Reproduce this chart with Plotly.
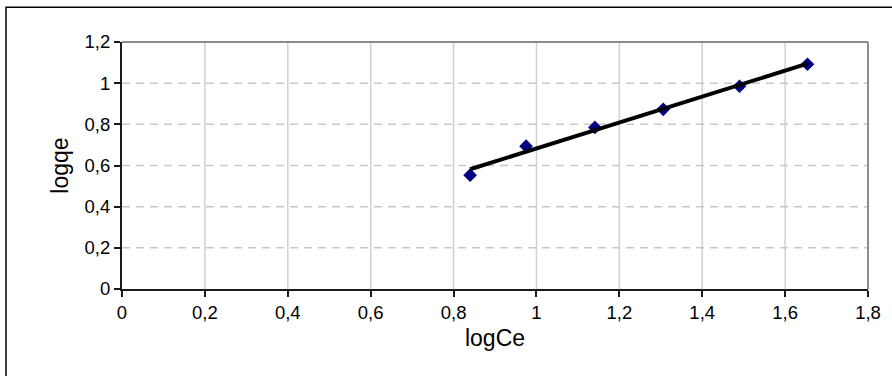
import numpy as np
import plotly.graph_objects as go

log_ce = [0.840, 0.975, 1.141, 1.306, 1.490, 1.654]
log_qe = [0.553, 0.694, 0.785, 0.873, 0.985, 1.092]
x_ticks = [0, 0.2, 0.4, 0.6, 0.8, 1.0, 1.2, 1.4, 1.6, 1.8]
x_tick_text = ["0", "0,2", "0,4", "0,6", "0,8", "1", "1,2", "1,4", "1,6", "1,8"]
y_ticks = [0, 0.2, 0.4, 0.6, 0.8, 1.0, 1.2]
y_tick_text = ["0", "0,2", "0,4", "0,6", "0,8", "1", "1,2"]

slope, intercept = np.polyfit(log_ce, log_qe, 1)
trend_x = [min(log_ce), max(log_ce)]
trend_y = [slope * v + intercept for v in trend_x]

fig = go.Figure()
# vertical solid grid lines
for xv in x_ticks[1:-1]:
    fig.add_shape(type="line", xref="x", yref="y", x0=xv, x1=xv, y0=0, y1=1.2,
                  line=dict(color="#d0d0d0", width=1.5), layer="below")
# horizontal dashed grid lines
for yv in y_ticks[1:-1]:
    fig.add_shape(type="line", xref="x", yref="y", x0=0, x1=1.8, y0=yv, y1=yv,
                  line=dict(color="#c8c8c8", width=1.5, dash="8px,6px"), layer="below")

fig.add_trace(go.Scatter(x=log_ce, y=log_qe, mode="markers",
                         marker=dict(symbol="diamond", color="#000080", size=10.5,
                                     line=dict(width=0)), showlegend=False))
fig.add_trace(go.Scatter(x=trend_x, y=trend_y, mode="lines",
                         line=dict(color="black", width=4), showlegend=False))

# plot area top/right border in gray
fig.add_shape(type="line", xref="paper", yref="paper", x0=0, x1=1, y0=1, y1=1,
              line=dict(color="#8c8c8c", width=2))
fig.add_shape(type="line", xref="paper", yref="paper", x0=1, x1=1, y0=0, y1=1,
              line=dict(color="#8c8c8c", width=2))
# outer chart border (extends beyond right/bottom edge)
fig.add_shape(type="rect", xref="paper", yref="paper", x0=-0.1555, x1=1.2, y0=-0.6, y1=1.1403,
              line=dict(color="black", width=1.5), layer="below")

fig.update_layout(
    width=892, height=376,
    margin=dict(l=122, r=24, t=42, b=87),
    paper_bgcolor="white", plot_bgcolor="white",
    font=dict(family="Liberation Sans, Arial, sans-serif", color="black"),
    xaxis=dict(range=[0, 1.8], tickvals=x_ticks, ticktext=x_tick_text,
               showgrid=False, zeroline=False, showline=True, linecolor="#1a1a1a", linewidth=2,
               ticks="outside", ticklen=6, tickcolor="#1a1a1a", tickwidth=1.5,
               tickfont=dict(size=18.5), title=dict(text="logCe", font=dict(size=23), standoff=8)),
    yaxis=dict(range=[0, 1.2], tickvals=y_ticks, ticktext=y_tick_text,
               showgrid=False, zeroline=False, showline=True, linecolor="#1a1a1a", linewidth=2,
               ticks="outside", ticklen=6, tickcolor="#1a1a1a", tickwidth=1.5,
               tickfont=dict(size=18.5), title=dict(text="logqe", font=dict(size=23), standoff=10)),
)

fig.write_html("out.html", config={"displayModeBar": False},
               post_script="document.body.style.margin='0';")
